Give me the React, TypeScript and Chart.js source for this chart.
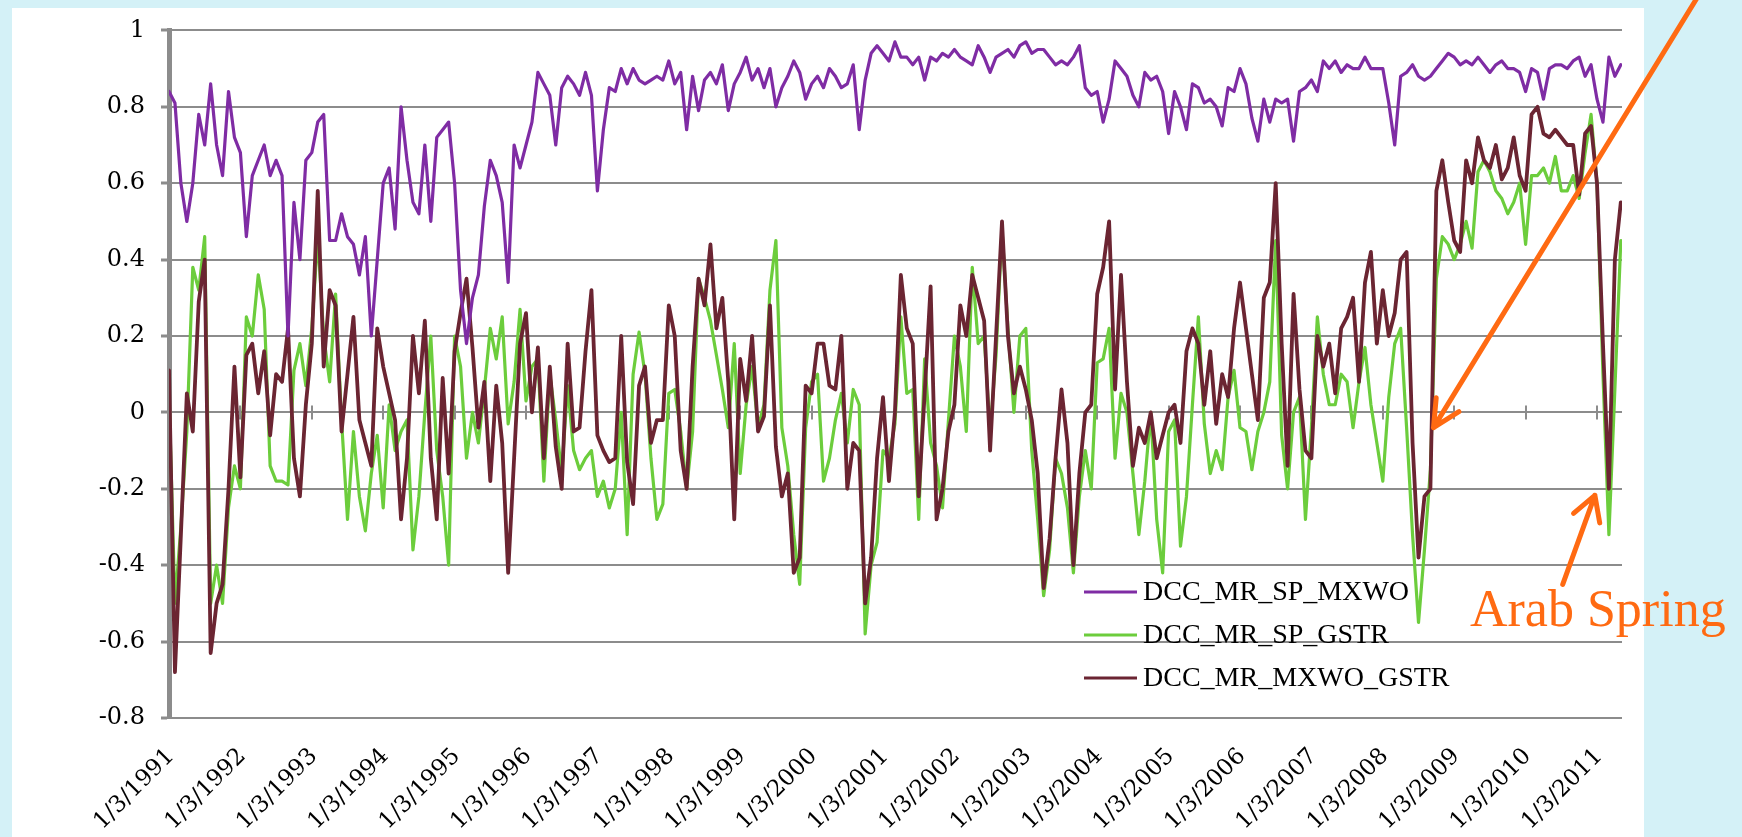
import React, { useEffect, useRef } from "react";
import { Chart, registerables } from "chart.js";

Chart.register(...registerables);

// ---------- data ----------
const START_YEAR = 1991;
const POINTS_PER_YEAR = 12; // monthly readings
const X_MAX = 2011.35;
const YEAR_TICKS = [1991, 1992, 1993, 1994, 1995, 1996, 1997, 1998, 1999, 2000, 2001, 2002, 2003, 2004, 2005, 2006, 2007, 2008, 2009, 2010, 2011];
const Y_TICKS = [-0.8, -0.6, -0.4, -0.2, 0, 0.2, 0.4, 0.6, 0.8, 1];
const SERIES_LABELS = ["DCC_MR_SP_MXWO", "DCC_MR_SP_GSTR", "DCC_MR_MXWO_GSTR"];

const SP_MXWO = [
  0.84, 0.81, 0.60, 0.50, 0.60, 0.78, 0.70, 0.86, 0.70, 0.62, 0.84, 0.72,
  0.68, 0.46, 0.62, 0.66, 0.70, 0.62, 0.66, 0.62, 0.20, 0.55, 0.40, 0.66,
  0.68, 0.76, 0.78, 0.45, 0.45, 0.52, 0.46, 0.44, 0.36, 0.46, 0.20, 0.40,
  0.60, 0.64, 0.48, 0.80, 0.66, 0.55, 0.52, 0.70, 0.50, 0.72, 0.74, 0.76,
  0.60, 0.32, 0.18, 0.30, 0.36, 0.54, 0.66, 0.62, 0.55, 0.34, 0.70, 0.64,
  0.70, 0.76, 0.89, 0.86, 0.83, 0.70, 0.85, 0.88, 0.86, 0.83, 0.89, 0.83,
  0.58, 0.74, 0.85, 0.84, 0.90, 0.86, 0.90, 0.87, 0.86, 0.87, 0.88, 0.87,
  0.92, 0.86, 0.89, 0.74, 0.88, 0.79, 0.87, 0.89, 0.86, 0.91, 0.79, 0.86,
  0.89, 0.93, 0.87, 0.90, 0.85, 0.90, 0.80, 0.85, 0.88, 0.92, 0.89, 0.82,
  0.86, 0.88, 0.85, 0.90, 0.88, 0.85, 0.86, 0.91, 0.74, 0.87, 0.94, 0.96,
  0.94, 0.92, 0.97, 0.93, 0.93, 0.91, 0.93, 0.87, 0.93, 0.92, 0.94, 0.93,
  0.95, 0.93, 0.92, 0.91, 0.96, 0.93, 0.89, 0.93, 0.94, 0.95, 0.93, 0.96,
  0.97, 0.94, 0.95, 0.95, 0.93, 0.91, 0.92, 0.91, 0.93, 0.96, 0.85, 0.83,
  0.84, 0.76, 0.82, 0.92, 0.90, 0.88, 0.83, 0.80, 0.89, 0.87, 0.88, 0.84,
  0.73, 0.84, 0.80, 0.74, 0.86, 0.85, 0.81, 0.82, 0.80, 0.75, 0.85, 0.84,
  0.90, 0.86, 0.77, 0.71, 0.82, 0.76, 0.82, 0.81, 0.82, 0.71, 0.84, 0.85,
  0.87, 0.84, 0.92, 0.90, 0.92, 0.89, 0.91, 0.90, 0.90, 0.93, 0.90, 0.90,
  0.90, 0.81, 0.70, 0.88, 0.89, 0.91, 0.88, 0.87, 0.88, 0.90, 0.92, 0.94,
  0.93, 0.91, 0.92, 0.91, 0.93, 0.91, 0.89, 0.91, 0.92, 0.90, 0.90, 0.89,
  0.84, 0.90, 0.89, 0.82, 0.90, 0.91, 0.91, 0.90, 0.92, 0.93, 0.88, 0.91,
  0.82, 0.76, 0.93, 0.88, 0.91,
];

const SP_GSTR = [
  0.05, -0.50, -0.30, -0.05, 0.38, 0.32, 0.46, -0.50, -0.40, -0.50, -0.25, -0.14,
  -0.20, 0.25, 0.20, 0.36, 0.27, -0.14, -0.18, -0.18, -0.19, 0.11, 0.18, 0.07,
  0.22, 0.46, 0.20, 0.08, 0.31, -0.02, -0.28, -0.05, -0.22, -0.31, -0.16, -0.06,
  -0.25, 0.02, -0.10, -0.05, -0.02, -0.36, -0.22, 0.00, 0.20, -0.10, -0.22, -0.40,
  0.20, 0.12, -0.12, 0.00, -0.08, 0.06, 0.22, 0.14, 0.25, -0.03, 0.08, 0.27,
  0.03, 0.12, 0.14, -0.18, 0.10, -0.02, -0.16, 0.07, -0.10, -0.15, -0.12, -0.10,
  -0.22, -0.18, -0.25, -0.20, 0.00, -0.32, 0.10, 0.21, 0.10, -0.12, -0.28, -0.24,
  0.05, 0.06, -0.05, -0.20, -0.05, 0.35, 0.30, 0.24, 0.15, 0.06, -0.04, 0.18,
  -0.16, 0.02, 0.12, -0.04, 0.02, 0.32, 0.45, -0.04, -0.14, -0.32, -0.45, -0.04,
  0.08, 0.10, -0.18, -0.12, -0.02, 0.05, -0.08, 0.06, 0.02, -0.58, -0.40, -0.34,
  -0.10, -0.12, -0.03, 0.25, 0.05, 0.06, -0.28, 0.14, -0.08, -0.14, -0.25, -0.02,
  0.20, 0.12, -0.05, 0.38, 0.18, 0.20, -0.05, 0.15, 0.48, 0.22, 0.00, 0.20,
  0.22, -0.10, -0.28, -0.48, -0.36, -0.12, -0.16, -0.25, -0.42, -0.22, -0.10, -0.20,
  0.13, 0.14, 0.22, -0.12, 0.05, 0.00, -0.16, -0.32, -0.18, 0.00, -0.28, -0.42,
  -0.05, -0.02, -0.35, -0.22, 0.02, 0.25, -0.03, -0.16, -0.10, -0.15, 0.04, 0.11,
  -0.04, -0.05, -0.15, -0.05, 0.00, 0.08, 0.45, -0.06, -0.20, 0.00, 0.04, -0.28,
  -0.04, 0.25, 0.10, 0.02, 0.02, 0.10, 0.08, -0.04, 0.08, 0.17, 0.02, -0.08,
  -0.18, 0.04, 0.18, 0.22, -0.04, -0.32, -0.55, -0.36, -0.15, 0.35, 0.46, 0.44,
  0.40, 0.44, 0.50, 0.43, 0.63, 0.66, 0.63, 0.58, 0.56, 0.52, 0.55, 0.60,
  0.44, 0.62, 0.62, 0.64, 0.60, 0.67, 0.58, 0.58, 0.62, 0.56, 0.68, 0.78,
  0.60, 0.10, -0.32, 0.06, 0.45,
];

const MXWO_GSTR = [
  0.11, -0.68, -0.32, 0.05, -0.05, 0.29, 0.40, -0.63, -0.50, -0.45, -0.20, 0.12,
  -0.17, 0.15, 0.18, 0.05, 0.16, -0.06, 0.10, 0.08, 0.22, -0.12, -0.22, 0.02,
  0.18, 0.58, 0.12, 0.32, 0.28, -0.05, 0.10, 0.25, -0.02, -0.08, -0.14, 0.22,
  0.12, 0.05, -0.02, -0.28, -0.12, 0.20, 0.05, 0.24, -0.12, -0.28, 0.09, -0.16,
  0.16, 0.26, 0.35, 0.17, -0.04, 0.08, -0.18, 0.07, -0.08, -0.42, -0.12, 0.18,
  0.26, 0.00, 0.17, -0.12, 0.12, -0.09, -0.20, 0.18, -0.05, -0.04, 0.16, 0.32,
  -0.06, -0.10, -0.13, -0.12, 0.20, -0.13, -0.24, 0.07, 0.12, -0.08, -0.02, -0.02,
  0.28, 0.20, -0.10, -0.20, 0.12, 0.35, 0.28, 0.44, 0.22, 0.30, 0.08, -0.28,
  0.14, 0.03, 0.20, -0.05, -0.01, 0.28, -0.09, -0.22, -0.16, -0.42, -0.38, 0.07,
  0.05, 0.18, 0.18, 0.07, 0.06, 0.20, -0.20, -0.08, -0.10, -0.50, -0.38, -0.12,
  0.04, -0.18, 0.00, 0.36, 0.22, 0.18, -0.22, 0.05, 0.33, -0.28, -0.20, -0.05,
  0.02, 0.28, 0.20, 0.36, 0.30, 0.24, -0.10, 0.20, 0.50, 0.20, 0.05, 0.12,
  0.06, -0.02, -0.16, -0.46, -0.33, -0.12, 0.06, -0.08, -0.40, -0.16, 0.00, 0.02,
  0.31, 0.38, 0.50, 0.06, 0.36, 0.08, -0.14, -0.04, -0.08, 0.00, -0.12, -0.06,
  0.00, 0.02, -0.08, 0.16, 0.22, 0.18, 0.02, 0.16, -0.03, 0.10, 0.04, 0.22,
  0.34, 0.22, 0.10, -0.02, 0.30, 0.34, 0.60, 0.18, -0.14, 0.31, 0.06, -0.10,
  -0.12, 0.20, 0.12, 0.18, 0.05, 0.22, 0.25, 0.30, 0.08, 0.34, 0.42, 0.18,
  0.32, 0.20, 0.26, 0.40, 0.42, -0.08, -0.38, -0.22, -0.20, 0.58, 0.66, 0.55,
  0.45, 0.42, 0.66, 0.60, 0.72, 0.66, 0.64, 0.70, 0.61, 0.64, 0.72, 0.62,
  0.58, 0.78, 0.80, 0.73, 0.72, 0.74, 0.72, 0.70, 0.70, 0.57, 0.73, 0.75,
  0.60, 0.18, -0.20, 0.40, 0.55,
];

// ---------- styling / annotation constants ----------
const PURPLE = "#7f2ca4";
const GREEN = "#6ccd3c";
const BROWN = "#6b2532";
const ORANGE = "#ff6a12";
const GRID = "#8c8c8c";
const BG = "#d4f1f7";

const ARROWS = [
  { from: [2012.45, 1.1], to: [2008.71, -0.04], head: 30, spread: 0.46 },
  { from: [2010.52, -0.45], to: [2010.97, -0.217], head: 28, spread: 0.52 },
];

const toPoints = (arr: number[]) =>
  arr.map((v, i) => ({ x: START_YEAR + i / POINTS_PER_YEAR, y: v }));

const zeroTicksPlugin = {
  id: "zeroTicks",
  beforeDatasetsDraw(chart: any) {
    const xs = chart.scales.x;
    const ys = chart.scales.y;
    const ctx = chart.ctx;
    const y0 = ys.getPixelForValue(0);
    ctx.save();
    ctx.strokeStyle = GRID;
    ctx.lineWidth = 2;
    YEAR_TICKS.forEach((v) => {
      if (v === START_YEAR) return;
      const px = Math.round(xs.getPixelForValue(v));
      ctx.beginPath();
      ctx.moveTo(px, y0 - 7);
      ctx.lineTo(px, y0 + 7);
      ctx.stroke();
    });
    ctx.restore();
  },
};

const overlayPlugin = {
  id: "overlay",
  afterDraw(chart: any) {
    const ctx = chart.ctx;
    const xs = chart.scales.x;
    const ys = chart.scales.y;
    const area = chart.chartArea;

    // legend inside the plot
    const lx = area.left + 915;
    const rows = [592, 635, 678];
    ctx.save();
    ctx.font = "28px 'Liberation Serif'";
    ctx.textBaseline = "middle";
    ctx.textAlign = "left";
    chart.data.datasets.forEach((ds: any, i: number) => {
      const y = rows[i];
      ctx.strokeStyle = ds.borderColor;
      ctx.lineWidth = 3;
      ctx.beginPath();
      ctx.moveTo(lx, y);
      ctx.lineTo(lx + 53, y);
      ctx.stroke();
      ctx.fillStyle = "#000";
      ctx.fillText(ds.label, lx + 59, y + 1);
    });
    ctx.restore();

    // arrows
    ctx.save();
    ctx.strokeStyle = ORANGE;
    ctx.lineWidth = 5;
    ctx.lineCap = "round";
    ctx.lineJoin = "round";
    ARROWS.forEach((a) => {
      const x1 = xs.getPixelForValue(a.from[0]);
      const y1 = ys.getPixelForValue(a.from[1]);
      const x2 = xs.getPixelForValue(a.to[0]);
      const y2 = ys.getPixelForValue(a.to[1]);
      const ang = Math.atan2(y1 - y2, x1 - x2);
      ctx.beginPath();
      ctx.moveTo(x1, y1);
      ctx.lineTo(x2, y2);
      [-1, 1].forEach((s) => {
        ctx.moveTo(x2, y2);
        ctx.lineTo(x2 + a.head * Math.cos(ang + s * a.spread), y2 + a.head * Math.sin(ang + s * a.spread));
      });
      ctx.stroke();
    });
    ctx.restore();

    // annotation text
    ctx.save();
    ctx.fillStyle = ORANGE;
    ctx.font = "52px 'Liberation Serif'";
    ctx.textAlign = "left";
    ctx.textBaseline = "alphabetic";
    ctx.fillText("Arab Spring", 1470, 626);
    ctx.restore();
  },
};

export default function App() {
  const canvasRef = useRef<HTMLCanvasElement | null>(null);

  useEffect(() => {
    const canvas = canvasRef.current;
    if (!canvas) return;
    const chart = new Chart(canvas, {
      type: "line",
      data: {
        datasets: [
          { label: SERIES_LABELS[0], data: toPoints(SP_MXWO), borderColor: PURPLE, borderWidth: 3.2, order: 0 },
          { label: SERIES_LABELS[1], data: toPoints(SP_GSTR), borderColor: GREEN, borderWidth: 3.2, order: 2 },
          { label: SERIES_LABELS[2], data: toPoints(MXWO_GSTR), borderColor: BROWN, borderWidth: 3.8, order: 1 },
        ].map((d) => ({
          ...d,
          pointRadius: 0,
          tension: 0,
          fill: false,
          borderJoinStyle: "round" as const,
          borderCapStyle: "round" as const,
        })),
      },
      options: {
        animation: false,
        responsive: false,
        devicePixelRatio: 1,
        events: [],
        layout: { padding: { top: 23, right: 120, bottom: 0, left: 0 } },
        plugins: { legend: { display: false }, tooltip: { enabled: false } },
        scales: {
          x: {
            type: "linear",
            min: START_YEAR,
            max: X_MAX,
            afterBuildTicks: (s: any) => {
              s.ticks = YEAR_TICKS.map((v) => ({ value: v }));
            },
            afterFit: (s: any) => {
              s.height = 119;
            },
            grid: { display: false, drawTicks: false },
            border: { display: false },
            ticks: {
              autoSkip: false,
              maxRotation: 45,
              minRotation: 45,
              padding: 25,
              labelOffset: 2,
              color: "#000",
              font: { family: "'DejaVu Serif'", size: 23 },
              callback: (v: any) => `1/3/${v}`,
            },
          },
          y: {
            min: -0.8,
            max: 1,
            afterBuildTicks: (s: any) => {
              s.ticks = Y_TICKS.map((v) => ({ value: v }));
            },
            afterFit: (s: any) => {
              s.width = 169;
            },
            grid: { color: GRID, lineWidth: 2, tickLength: 8, tickWidth: 3, tickColor: GRID },
            border: { color: GRID, width: 5 },
            ticks: {
              padding: 16,
              color: "#000",
              font: { family: "'DejaVu Serif'", size: 24 },
              callback: (v: any) => String(Math.round(Number(v) * 10) / 10),
            },
          },
        },
      } as any,
      plugins: [zeroTicksPlugin, overlayPlugin],
    });
    return () => chart.destroy();
  }, []);

  return (
    <div style={{ position: "fixed", left: 0, top: 0, width: 1742, height: 837, background: BG, overflow: "hidden" }}>
      <div style={{ position: "absolute", left: 12, top: 8, width: 1632, height: 829, background: "#fff" }} />
      <canvas ref={canvasRef} width={1742} height={837} style={{ position: "absolute", left: 0, top: 0, width: 1742, height: 837 }} />
    </div>
  );
}
